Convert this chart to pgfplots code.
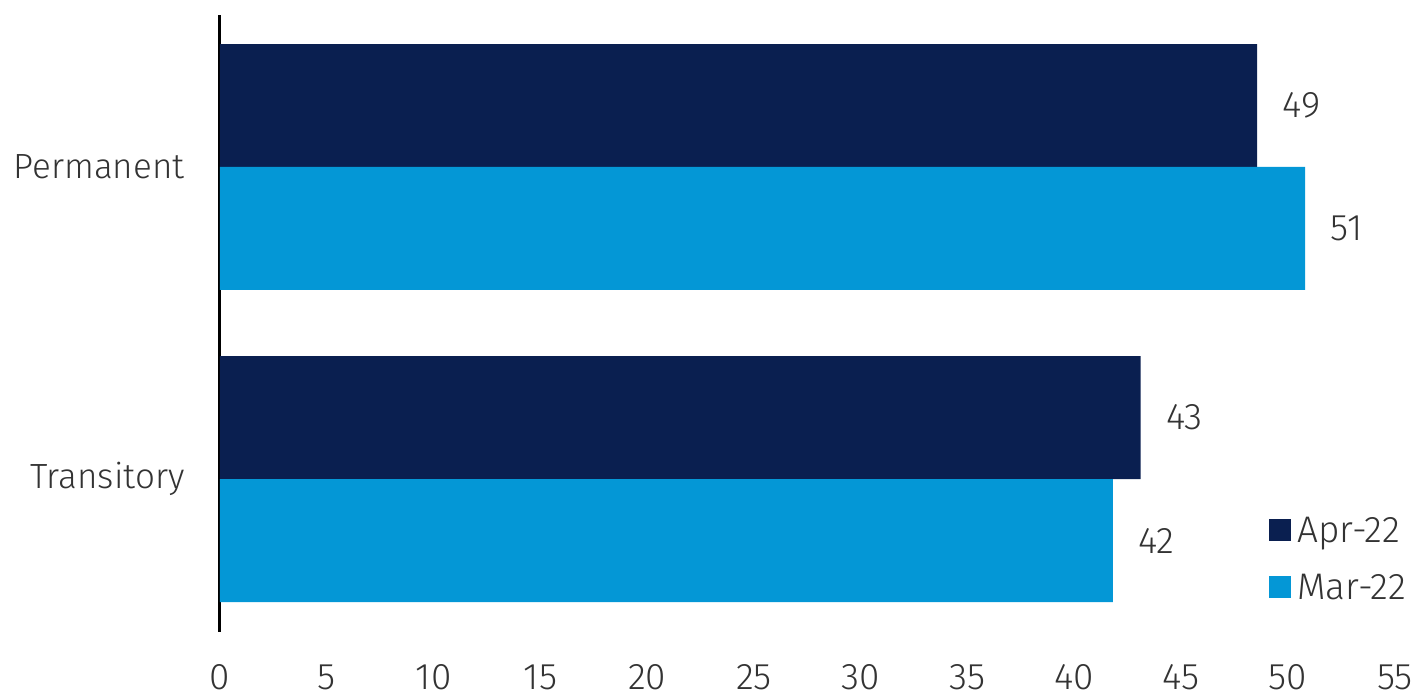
\documentclass[border=0pt]{standalone}
\usepackage{fontspec}
\setmainfont{Fira Sans}[UprightFont={* Light}]
\usepackage{pgfplots}
\pgfplotsset{compat=1.18}
\definecolor{navy}{HTML}{0A1F50}
\definecolor{sky}{HTML}{0497D6}
\definecolor{txt}{HTML}{333333}
\begin{document}
\begin{tikzpicture}
\path[use as bounding box] (-220pt,-68pt) rectangle (1200pt,632pt);
\begin{axis}[
  at={(0pt,0pt)}, anchor=south west,
  scale only axis, width=1175pt, height=617pt,
  xmin=0, xmax=55, ymin=-0.49, ymax=1.487,
  xtick={0,5,...,55},
  ytick={0,1}, yticklabels={Transitory,Permanent},
  axis x line*=bottom,
  x axis line style={draw=none},
  axis y line*=left,
  y axis line style={-, draw=black, line width=3pt},
  major tick length=0pt,
  tick style={draw=none},
  xticklabel style={font=\fontsize{37}{44}\selectfont, text=txt, yshift=-29pt},
  yticklabel style={font=\fontsize{35}{42}\selectfont, text=txt, xshift=-32pt},
  /pgf/number format/assume math mode=true,
  xbar, bar width=0.394,
  point meta=explicit symbolic,
  nodes near coords,
  nodes near coords style={font=\fontsize{37}{44}\selectfont, text=txt, anchor=west, xshift=22pt},
  clip=false,
  legend style={at={(0.893,0.19)}, anchor=north west, draw=none, fill=none,
    font=\fontsize{37}{44}\selectfont, text=txt, row sep=26pt,
    legend cell align=left, inner sep=0pt,
    nodes={inner xsep=6pt}},
  legend image code/.code={\fill[#1] (0pt,-11pt) rectangle (22pt,11pt);},
]
\addplot[fill=navy, draw=none, bar shift=0.197] coordinates {(43.1,0) [43] (48.55,1) [49]};
\addplot[fill=sky, draw=none, bar shift=-0.197] coordinates {(41.8,0) [42] (50.8,1) [51]};
\legend{Apr-22,Mar-22}
\end{axis}
\end{tikzpicture}
\end{document}
